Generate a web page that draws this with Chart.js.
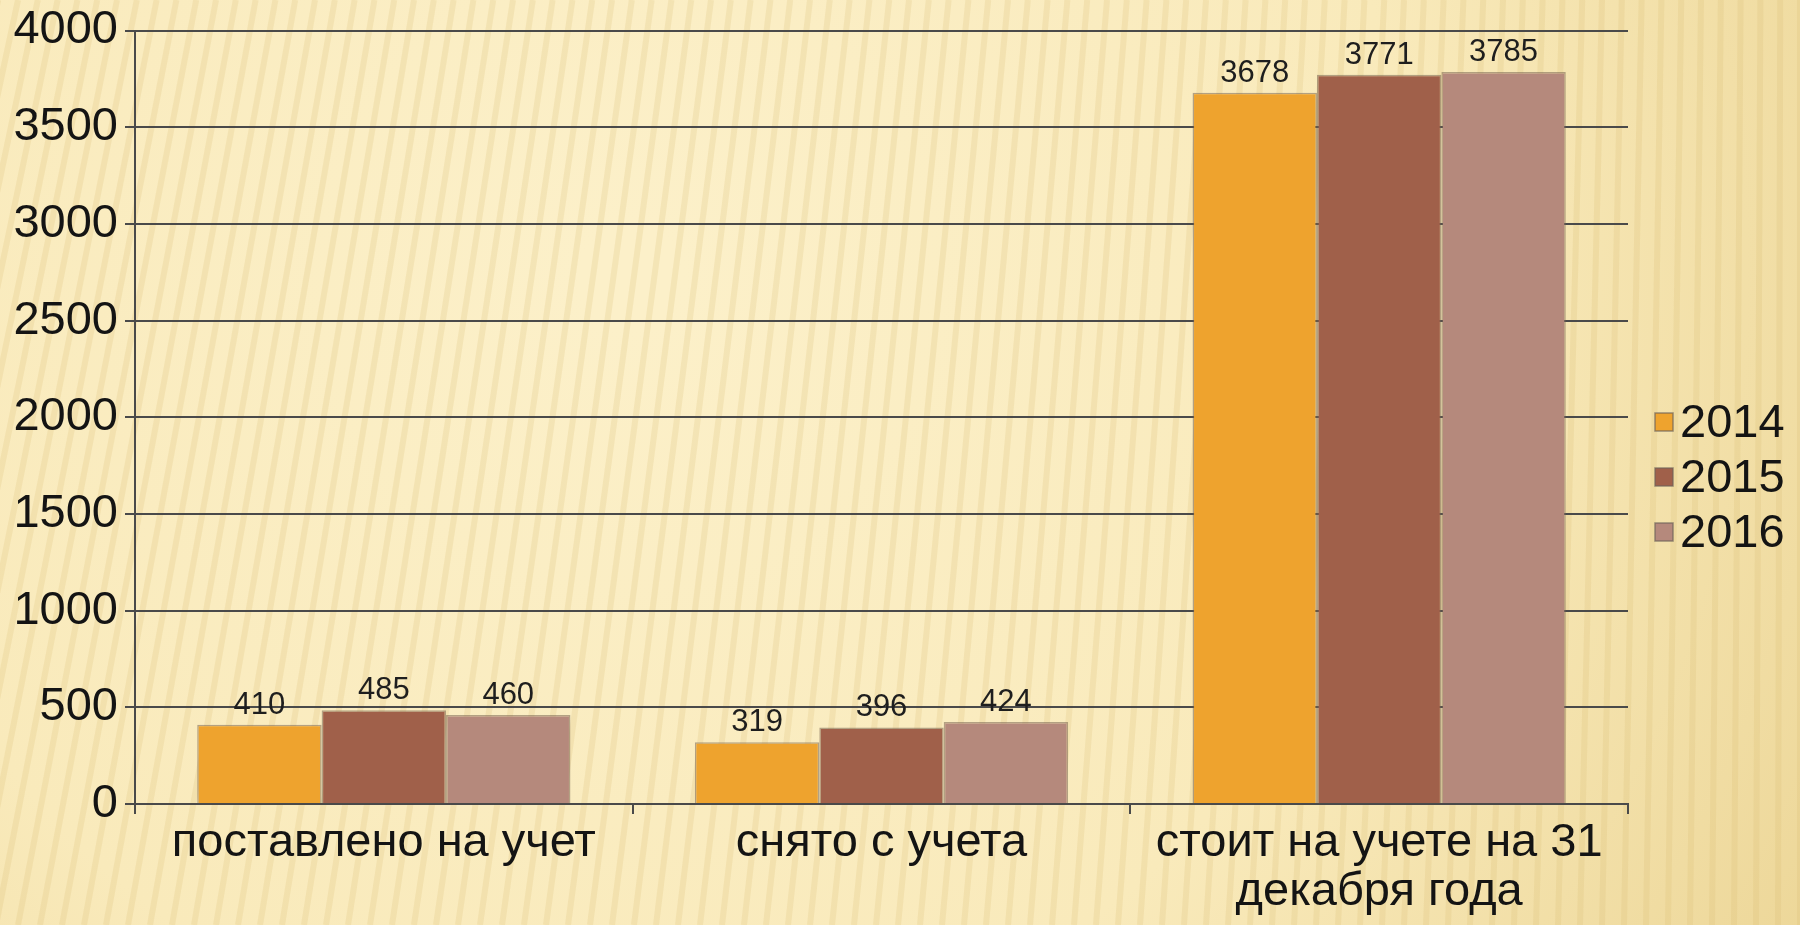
<!DOCTYPE html>
<html>
<head>
<meta charset="utf-8">
<script src="https://cdn.jsdelivr.net/npm/chart.js@4/dist/chart.umd.min.js"></script>
<style>
  html, body { margin: 0; padding: 0; background: #f6e6b4; }
  #wrap { width: 1800px; height: 925px; }
</style>
</head>
<body>
<div id="wrap"><canvas id="bar-chart" width="1800" height="925"></canvas></div>
<script>
// data
var categories = ['поставлено на учет', 'снято с учета', ['стоит на учете на 31', 'декабря года']];
var years = ['2014', '2015', '2016'];
var values2014 = [410, 319, 3678];
var values2015 = [485, 396, 3771];
var values2016 = [460, 424, 3785];
var yTicks = [0, 500, 1000, 1500, 2000, 2500, 3000, 3500, 4000];

var colors = ['#eea32e', '#a0604a', '#b5897c'];
var fontFamily = '"Liberation Sans", Arial, sans-serif';

// striped paper background
var backdrop = {
  id: 'backdrop',
  beforeDraw: function (chart) {
    var c = chart.ctx, w = chart.width, h = chart.height;
    c.save();
    var g = c.createRadialGradient(w * 0.35, h * 0.3, 50, w * 0.35, h * 0.3, w * 0.85);
    g.addColorStop(0, '#fcf0c9');
    g.addColorStop(0.5, '#f9eabb');
    g.addColorStop(1, '#e9d18e');
    c.fillStyle = g;
    c.fillRect(0, 0, w, h);
    c.lineWidth = 6;
    for (var x = -400; x < w + 200; x += 22) {
      var t = x / w; // slant fades out toward the right
      var slant = Math.max(0, 1 - t) * 180;
      c.strokeStyle = 'rgba(215,185,110,0.2)';
      c.beginPath();
      c.moveTo(x + slant, 0);
      c.lineTo(x, h);
      c.stroke();
    }
    c.restore();
  }
};

// value labels on top of bars
var barValues = {
  id: 'barValues',
  afterDatasetsDraw: function (chart) {
    var c = chart.ctx;
    c.save();
    c.font = '31px ' + fontFamily;
    c.fillStyle = '#1e1e1e';
    c.textAlign = 'center';
    c.textBaseline = 'bottom';
    chart.data.datasets.forEach(function (ds, i) {
      chart.getDatasetMeta(i).data.forEach(function (bar, j) {
        c.fillText(ds.data[j], bar.x, bar.y - 4);
      });
    });
    c.restore();
  }
};

// legend with the text close to the box
var sideLegend = {
  id: 'sideLegend',
  afterDraw: function (chart) {
    var c = chart.ctx;
    var x = chart.chartArea.right + 27;
    var rowH = 55;
    var n = chart.data.datasets.length;
    var y0 = 477 - rowH * (n - 1) / 2;
    c.save();
    c.font = '47px ' + fontFamily;
    c.textBaseline = 'middle';
    c.textAlign = 'left';
    chart.data.datasets.forEach(function (ds, i) {
      var y = y0 + i * rowH;
      c.fillStyle = ds.backgroundColor;
      c.fillRect(x, y - 9, 18, 18);
      c.strokeStyle = 'rgba(110,100,90,0.7)';
      c.lineWidth = 1.5;
      c.strokeRect(x, y - 9, 18, 18);
      c.fillStyle = '#141414';
      c.fillText(ds.label, x + 25, y + 2);
    });
    c.restore();
  }
};

var ctx = document.getElementById('bar-chart').getContext('2d');

var mychart = new Chart(ctx, {
  type: 'bar',
  data: {
    labels: categories,
    datasets: [
      { label: years[0], data: values2014, backgroundColor: colors[0] },
      { label: years[1], data: values2015, backgroundColor: colors[1] },
      { label: years[2], data: values2016, backgroundColor: colors[2] }
    ]
  },
  options: {
    responsive: false,
    animation: false,
    layout: { padding: { top: 22, right: 172, left: 0, bottom: 0 } },
    datasets: {
      bar: {
        categoryPercentage: 0.75,
        barPercentage: 1.0,
        borderWidth: 1.5,
        borderColor: 'rgba(120,100,80,0.55)'
      }
    },
    plugins: {
      legend: { display: false },
      tooltip: { enabled: false }
    },
    scales: {
      x: {
        grid: { offset: true, drawOnChartArea: false, drawTicks: true, tickLength: 10, color: '#4a4a4a', lineWidth: 2 },
        border: { color: '#4a4a4a', width: 2 },
        ticks: {
          color: '#141414',
          padding: 4,
          font: { family: fontFamily, size: 47, lineHeight: 1.05 }
        },
        afterFit: function (scale) { scale.height = 121; }
      },
      y: {
        min: 0,
        max: 4000,
        afterBuildTicks: function (scale) {
          scale.ticks = yTicks.map(function (v) { return { value: v }; });
        },
        grid: { color: '#4a4a4a', lineWidth: 2, tickLength: 10 },
        border: { color: '#4a4a4a', width: 2 },
        ticks: {
          color: '#141414',
          padding: 7,
          font: { family: fontFamily, size: 47, lineHeight: 1.0 },
          callback: function (v) { return String(v); }
        },
        afterFit: function (scale) { scale.width = 135; }
      }
    }
  },
  plugins: [backdrop, barValues, sideLegend]
});
</script>
</body>
</html>
